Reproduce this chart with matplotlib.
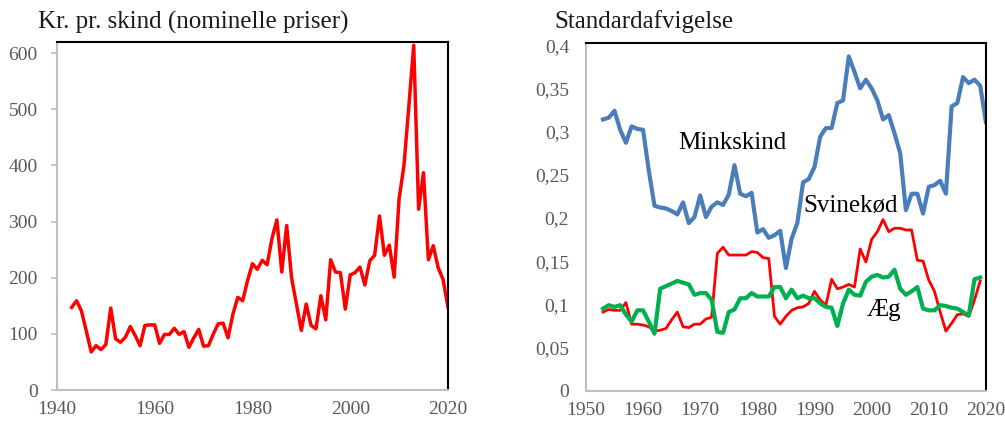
import numpy as np
import matplotlib.pyplot as plt
from matplotlib.ticker import FuncFormatter

plt.rcParams['font.family'] = ['Liberation Serif', 'DejaVu Serif']

# venstre panel: pris pr. skind
years_price = list(range(1943, 2021))
price = [147, 159, 141, 105, 68, 79, 72, 81, 146, 91, 85, 94, 113, 97, 79, 115, 116, 116, 83, 99,
         99, 110, 99, 104, 76, 93, 108, 78, 79, 100, 118, 119, 93, 135, 165, 159, 195, 225, 215, 231,
         223, 270, 303, 210, 293, 200, 153, 106, 153, 115, 109, 168, 125, 232, 210, 209, 144, 205, 209, 219,
         187, 230, 240, 310, 240, 258, 201, 340, 400, 505, 614, 322, 387, 232, 257, 218, 197, 148]

# højre panel: standardafvigelse
years_mink = list(range(1953, 2021))
mink = [0.314, 0.316, 0.324, 0.302, 0.287, 0.306, 0.303, 0.302, 0.255, 0.214,
        0.212, 0.211, 0.208, 0.204, 0.218, 0.194, 0.201, 0.226, 0.201, 0.213,
        0.218, 0.215, 0.227, 0.261, 0.228, 0.225, 0.229, 0.183, 0.187, 0.177,
        0.180, 0.185, 0.142, 0.176, 0.194, 0.241, 0.245, 0.259, 0.294, 0.304,
        0.304, 0.333, 0.336, 0.387, 0.369, 0.350, 0.360, 0.350, 0.336, 0.314,
        0.319, 0.298, 0.275, 0.209, 0.228, 0.228, 0.205, 0.236, 0.238, 0.243,
        0.228, 0.329, 0.333, 0.363, 0.356, 0.360, 0.353, 0.311]

years_other = list(range(1953, 2020))
svin = [0.091, 0.094, 0.093, 0.093, 0.102, 0.077, 0.077, 0.076, 0.074, 0.069,
        0.070, 0.072, 0.082, 0.091, 0.074, 0.073, 0.077, 0.077, 0.083, 0.085,
        0.159, 0.166, 0.157, 0.157, 0.157, 0.157, 0.161, 0.160, 0.154, 0.153,
        0.086, 0.077, 0.086, 0.093, 0.096, 0.097, 0.101, 0.115, 0.105, 0.099,
        0.129, 0.118, 0.120, 0.123, 0.120, 0.164, 0.149, 0.175, 0.184, 0.198,
        0.184, 0.188, 0.188, 0.186, 0.186, 0.151, 0.150, 0.128, 0.115, 0.091,
        0.069, 0.078, 0.088, 0.089, 0.086, 0.105, 0.127]
aeg = [0.095, 0.099, 0.097, 0.099, 0.088, 0.080, 0.093, 0.093, 0.080, 0.066,
       0.118, 0.121, 0.124, 0.127, 0.125, 0.123, 0.111, 0.113, 0.113, 0.105,
       0.068, 0.067, 0.091, 0.094, 0.107, 0.107, 0.113, 0.109, 0.109, 0.109,
       0.120, 0.120, 0.107, 0.117, 0.107, 0.110, 0.107, 0.107, 0.101, 0.097,
       0.096, 0.075, 0.101, 0.117, 0.111, 0.110, 0.126, 0.132, 0.134, 0.131,
       0.132, 0.140, 0.118, 0.111, 0.115, 0.120, 0.095, 0.093, 0.093, 0.099,
       0.098, 0.096, 0.095, 0.091, 0.087, 0.129, 0.131]

gray = '#595959'
spine_gray = '#BFBFBF'

fig = plt.figure(figsize=(10.05, 4.23), dpi=100)
ax1 = fig.add_axes([0.0567, 0.078, 0.389, 0.823])
ax2 = fig.add_axes([0.583, 0.0764, 0.398, 0.821])

def style(ax):
    for s in ['top', 'right']:
        ax.spines[s].set_color('black')
        ax.spines[s].set_linewidth(1.5)
    for s in ['left', 'bottom']:
        ax.spines[s].set_color(spine_gray)
        ax.spines[s].set_linewidth(1.5)
    ax.tick_params(labelsize=14, labelcolor=gray, colors=spine_gray)
    ax.tick_params(axis='x', length=0, pad=8)

# venstre
ax1.plot(years_price, price, color='#FF0000', lw=2.5)
ax1.set_xlim(1940, 2020)
ax1.set_ylim(0, 620)
ax1.set_xticks(range(1940, 2021, 20))
ax1.set_yticks(range(0, 601, 100))
style(ax1)
ax1.tick_params(axis='y', length=4, width=1.2, pad=10)
fig.text(0.038, 0.948, 'Kr. pr. skind (nominelle priser)', fontsize=18, va='center', color='#1a1a1a')

# højre
ax2.plot(years_mink, mink, color='#4A7EBB', lw=3)
ax2.plot(years_other, svin, color='#FF0000', lw=2)
ax2.plot(years_other, aeg, color='#00B050', lw=3)
ax2.set_xlim(1950, 2020)
ax2.set_ylim(0, 0.402)
ax2.set_xticks(range(1950, 2021, 10))
ax2.set_yticks(np.arange(0, 0.401, 0.05))
ax2.yaxis.set_major_formatter(FuncFormatter(lambda v, p: ('%g' % round(v, 2)).replace('.', ',')))
style(ax2)
ax2.tick_params(axis='y', length=0, pad=12)
fig.text(0.552, 0.948, 'Standardafvigelse', fontsize=18, va='center', color='#1a1a1a')

ax2.text(1975.6, 0.287, 'Minkskind', fontsize=18, ha='center', va='center')
ax2.text(1996.4, 0.214, 'Svinekød', fontsize=18, ha='center', va='center')
ax2.text(2002.2, 0.093, 'Æg', fontsize=18, ha='center', va='center')

fig.savefig('out.png', dpi=100)
